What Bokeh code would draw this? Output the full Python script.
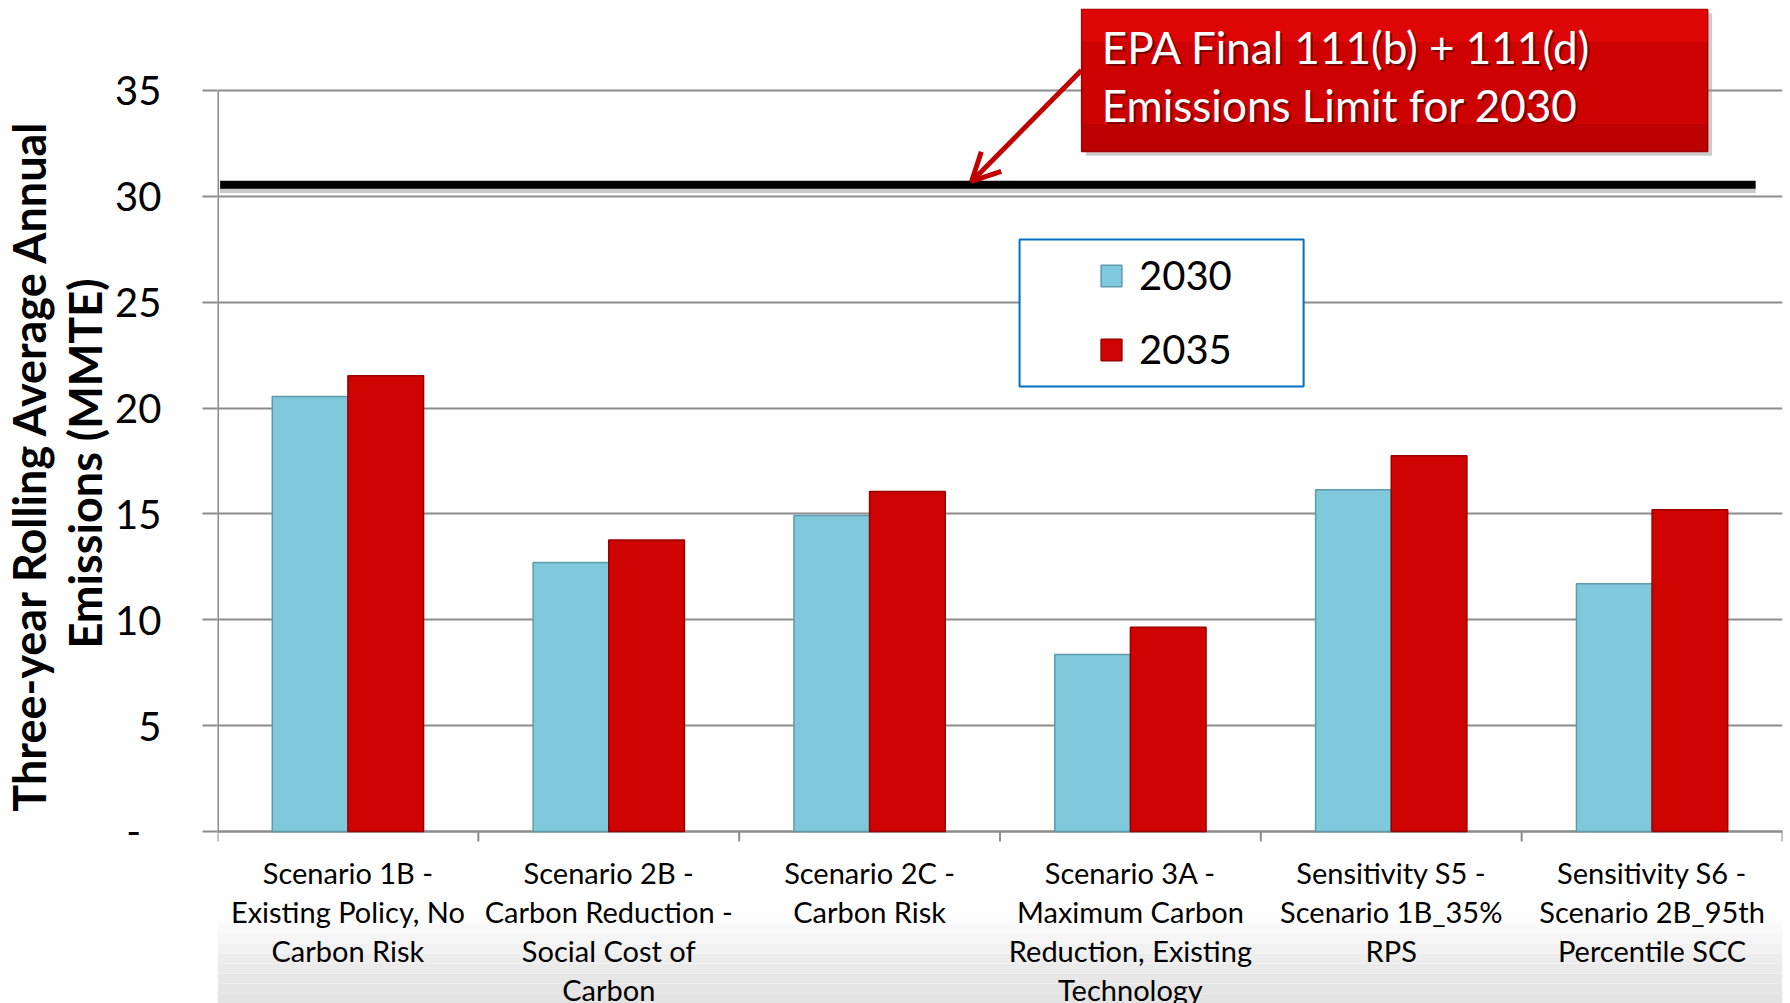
import numpy as np
from bokeh.plotting import figure
from bokeh.models import (Range1d, FixedTicker, Legend, LegendItem, Label, LabelSet, Title,
                          ColumnDataSource, Arrow, OpenHead, BoxAnnotation)
from bokeh.embed import file_html
from bokeh.resources import INLINE
from bokeh.core.properties import value

# ---------------- data ----------------
CATEGORIES = [
    "Scenario 1B -\nExisting Policy, No\nCarbon Risk",
    "Scenario 2B -\nCarbon Reduction -\nSocial Cost of\nCarbon",
    "Scenario 2C -\nCarbon Risk",
    "Scenario 3A -\nMaximum Carbon\nReduction, Existing\nTechnology",
    "Sensitivity S5 -\nScenario 1B_35%\nRPS",
    "Sensitivity S6 -\nScenario 2B_95th\nPercentile SCC",
]
SERIES = ["2030", "2035"]
VALUES_2030 = [20.55, 12.70, 14.93, 8.36, 16.14, 11.70]
VALUES_2035 = [21.52, 13.77, 16.06, 9.65, 17.75, 15.20]
EPA_LIMIT = 30.55
Y_TICKS = [0, 5, 10, 15, 20, 25, 30, 35]
Y_TICK_LABELS = ["-\u00a0\u00a0", "5", "10", "15", "20", "25", "30", "35"]
Y_TITLE = ["Three-year Rolling Average Annual", "Emissions (MMTE)"]
CALLOUT = ["EPA Final 111(b) + 111(d)", "Emissions Limit for 2030"]

FONT = "Lato"
CYAN = "#80c9dc"
CYAN_EDGE = "#5e9aab"
RED = "#d00303"
RED_EDGE = "#9a0000"
GRID = "#8c8c8c"

n = len(CATEGORIES)
idx = np.arange(n)
BAR_W = 0.29
PX = 21.171          # pixels per y unit
H = 1003
TOP = 8
Y_TOP = 38.87
Y_BOT = -(H - 831) / PX

p = figure(width=1790, height=H, x_range=Range1d(0, n), y_range=Range1d(Y_BOT, Y_TOP),
           output_backend="svg", toolbar_location=None,
           min_border_left=217, min_border_right=8, min_border_top=TOP, min_border_bottom=0)
p.outline_line_color = None
p.background_fill_color = "white"
p.border_fill_color = "white"
p.xaxis.visible = False

# y axis
p.yaxis.ticker = FixedTicker(ticks=Y_TICKS)
p.yaxis.major_label_overrides = {t: l for t, l in zip(Y_TICKS, Y_TICK_LABELS)}
p.yaxis.axis_line_color = None
p.yaxis.major_tick_out = 15
p.yaxis.major_tick_in = 0
p.yaxis.major_tick_line_color = GRID
p.yaxis.major_tick_line_width = 2
p.yaxis.minor_tick_line_color = None
p.yaxis.major_label_standoff = 41
p.yaxis.major_label_text_font = FONT
p.yaxis.major_label_text_font_size = "40px"
p.yaxis.major_label_text_color = "black"

# y-axis title: two centred lines, placed by their upper ends
for txt, end_px in [(Y_TITLE[1], 278), (Y_TITLE[0], 118)]:
    p.add_layout(Title(text=txt, align="right", offset=end_px - TOP, standoff=0,
                       vertical_align="middle", text_font=FONT, text_font_style="bold",
                       text_font_size="45px", text_color="black"), "left")

p.xgrid.grid_line_color = None
p.ygrid.ticker = FixedTicker(ticks=Y_TICKS)
p.ygrid.grid_line_color = GRID
p.ygrid.grid_line_width = 2

# bottom slide-background fade
shades = ["#fdfdfd", "#f9f9f9", "#f5f5f5", "#f1f1f1", "#ededed", "#eaeaea",
          "#e7e7e7", "#e5e5e5", "#e3e3e3"]
for k, c in enumerate(shades):
    top_px = 913 + k * 10
    p.add_layout(BoxAnnotation(left=0, right=n, top=(831 - top_px) / PX,
                               bottom=(831 - top_px - 10) / PX,
                               fill_color=c, fill_alpha=1.0, line_color=None))

# axis lines drawn as segments (y only up to the top tick; x baseline with boundary ticks)
p.segment(x0=[0], y0=[Y_TICKS[0]], x1=[0], y1=[Y_TICKS[-1]], line_color=GRID, line_width=3)
p.segment(x0=[0], y0=[0], x1=[n], y1=[0], line_color=GRID, line_width=2)
p.segment(x0=list(range(n + 1)), y0=[0] * (n + 1), x1=list(range(n + 1)),
          y1=[-10 / PX] * (n + 1), line_color=GRID, line_width=2)

# bars
src = ColumnDataSource(dict(x30=idx + 0.5 - BAR_W / 2, v30=VALUES_2030,
                            x35=idx + 0.5 + BAR_W / 2, v35=VALUES_2035))
r30 = p.vbar(x="x30", top="v30", width=BAR_W, source=src, fill_color=CYAN,
             line_color=CYAN_EDGE, line_width=1.5)
r35 = p.vbar(x="x35", top="v35", width=BAR_W, source=src, fill_color=RED,
             line_color=RED_EDGE, line_width=1.5)

# limit line (with soft shadow)
p.segment(x0=[0.01], y0=[EPA_LIMIT - 0.2], x1=[5.897], y1=[EPA_LIMIT - 0.2],
          line_color="#c8c8c8", line_width=8)
p.segment(x0=[0.01], y0=[EPA_LIMIT], x1=[5.897], y1=[EPA_LIMIT],
          line_color="black", line_width=8)

# legend box
p.add_layout(BoxAnnotation(left=3.075, right=4.164, top=27.96, bottom=21.02,
                           fill_color="white", fill_alpha=1.0, line_alpha=1.0,
                           line_color="#0070c0", line_width=2))
legend = Legend(items=[LegendItem(label=SERIES[0], renderers=[r30]),
                       LegendItem(label=SERIES[1], renderers=[r35])],
                location=(881, H - 374), orientation="vertical",
                padding=0, margin=0, spacing=24,
                glyph_width=26, glyph_height=27, label_height=50, label_standoff=15,
                label_text_font=FONT, label_text_font_size="40px", label_text_color="black",
                border_line_color=None, background_fill_alpha=0)
p.add_layout(legend, "center")

# callout box
p.add_layout(BoxAnnotation(left=3.33, right=5.73, top=38.63, bottom=31.92,
                           fill_color="#999999", fill_alpha=0.5, line_color=None))
p.add_layout(BoxAnnotation(left=3.313, right=5.713, top=38.83, bottom=32.12,
                           fill_color="#cf0202", fill_alpha=1.0, line_alpha=1.0,
                           line_color="#a00000", line_width=1.5))
p.add_layout(BoxAnnotation(left=3.313, right=5.713, top=38.83, bottom=37.3,
                           fill_color="#e80a0a", fill_alpha=0.6, line_color=None))
p.add_layout(BoxAnnotation(left=3.313, right=5.713, top=33.4, bottom=32.12,
                           fill_color="#a80000", fill_alpha=0.5, line_color=None))
for txt, yb in zip(CALLOUT, [37.07, 34.33]):
    p.add_layout(Label(x=3.39, y=yb, text=txt, x_offset=2, y_offset=-2,
                       text_font=FONT, text_font_size="44px", text_color="#400000",
                       text_alpha=0.6, text_baseline="alphabetic"))
    p.add_layout(Label(x=3.39, y=yb, text=txt, text_font=FONT, text_font_size="44px",
                       text_color="white", text_baseline="alphabetic"))

# arrow
p.add_layout(Arrow(end=OpenHead(size=28, line_color="#c00000", line_width=5),
                   x_start=3.3125, y_start=35.95, x_end=2.891, y_end=30.70,
                   line_color="#c00000", line_width=5))

# category labels: one centred row per wrapped line
lx, ly, lt = [], [], []
for i, cat in enumerate(CATEGORIES):
    for k, line in enumerate(cat.split("\n")):
        lx.append(i + 0.5)
        ly.append(-(24 + 39 * k) / PX)
        lt.append(line)
lab_src = ColumnDataSource(dict(x=lx, y=ly, text=lt))
p.add_layout(LabelSet(x="x", y="y", text="text", source=lab_src,
                      text_align="center", text_baseline="top",
                      text_font=value(FONT), text_font_size="29px", text_color="black"))

open("out.html", "w").write(file_html(p, INLINE))
